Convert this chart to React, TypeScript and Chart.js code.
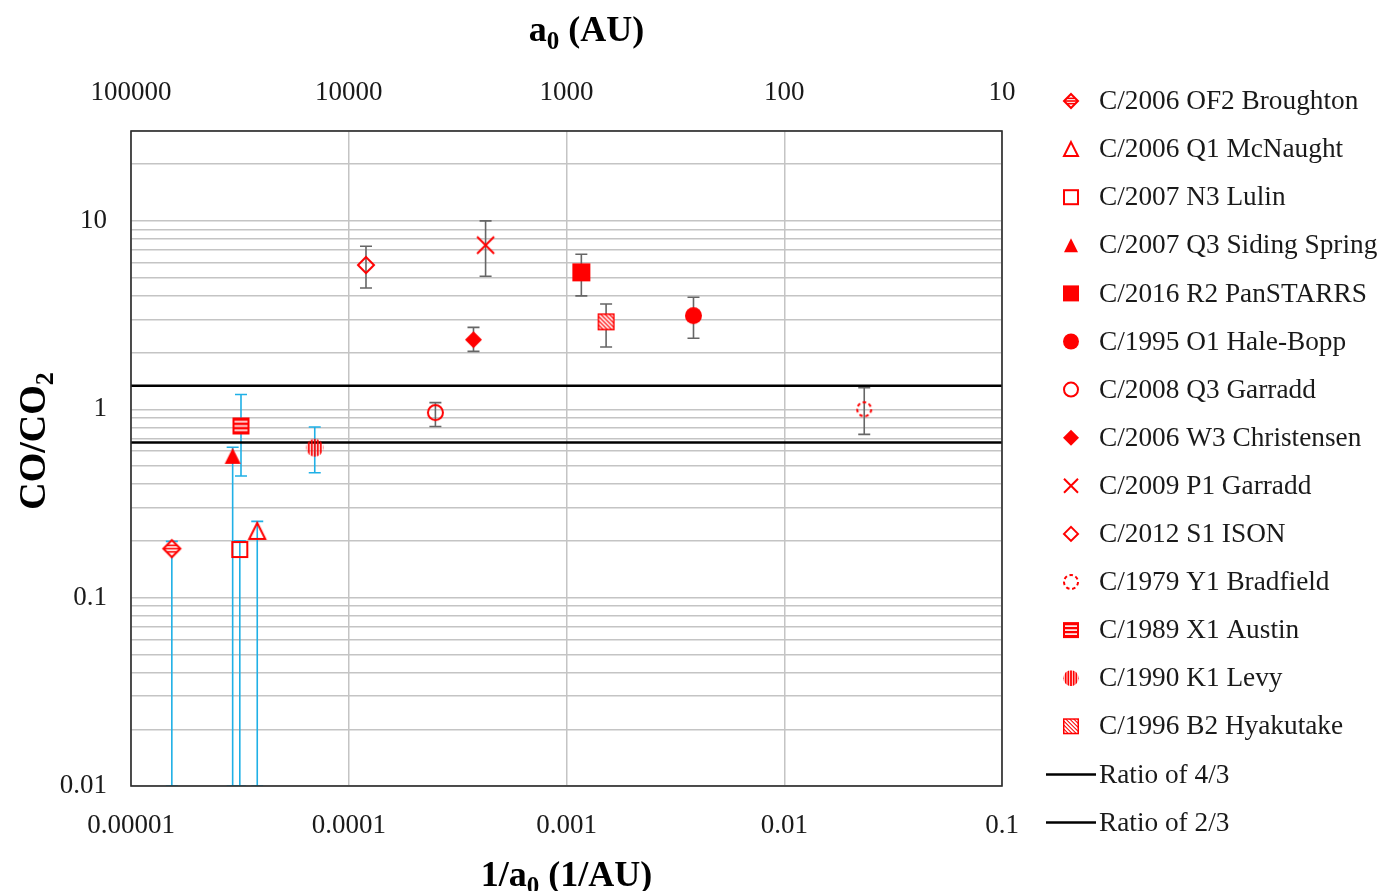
import React, { useEffect, useRef } from 'react';
import { Chart, registerables } from 'chart.js';

Chart.register(...registerables);

// ---------- data ----------
const cometNames = [
  'C/2006 OF2 Broughton',
  'C/2006 Q1 McNaught',
  'C/2007 N3 Lulin',
  'C/2007 Q3 Siding Spring',
  'C/2016 R2 PanSTARRS',
  'C/1995 O1 Hale-Bopp',
  'C/2008 Q3 Garradd',
  'C/2006 W3 Christensen',
  'C/2009 P1 Garradd',
  'C/2012 S1 ISON',
  'C/1979 Y1 Bradfield',
  'C/1989 X1 Austin',
  'C/1990 K1 Levy',
  'C/1996 B2 Hyakutake',
];
// 1/a0 (1/AU)
const invSemiMajor = [1.54e-5, 3.8e-5, 3.16e-5, 2.93e-5, 1.17e-3, 3.83e-3, 2.5e-4, 3.74e-4, 4.25e-4, 1.2e-4, 0.0233, 3.2e-5, 6.98e-5, 1.52e-3];
// CO/CO2
const coCo2 = [0.182, 0.226, 0.18, 0.566, 5.33, 3.14, 0.96, 2.34, 7.43, 5.83, 1.0, 0.815, 0.625, 2.91];
const errLower = [0.01, 0.01, 0.01, 0.01, 4.0, 2.38, 0.81, 2.03, 5.08, 4.4, 0.736, 0.442, 0.46, 2.14];
const errUpper = [0.199, 0.254, 0.2, 0.628, 6.65, 3.93, 1.085, 2.72, 10.0, 7.33, 1.3, 1.197, 0.805, 3.62];
const upperLimitStyle = [true, true, true, true, false, false, false, false, false, false, false, true, true, false];

const ratioValues = [4 / 3, 2 / 3];
const ratioLabels = ['Ratio of 4/3', 'Ratio of 2/3'];

const xTickValues = [1e-5, 1e-4, 1e-3, 1e-2, 1e-1];
const xTickLabels = ['0.00001', '0.0001', '0.001', '0.01', '0.1'];
const topTickValues = [100000, 10000, 1000, 100, 10];
const topTickLabels = ['100000', '10000', '1000', '100', '10'];
const yTickValues = [0.01, 0.1, 1, 10];
const yTickLabels = ['0.01', '0.1', '1', '10'];
const yGridValues = [
  0.01, 0.02, 0.03, 0.04, 0.05, 0.06, 0.07, 0.08, 0.09,
  0.1, 0.2, 0.3, 0.4, 0.5, 0.6, 0.7, 0.8, 0.9,
  1, 2, 3, 4, 5, 6, 7, 8, 9,
  10, 20, 30,
];

// ---------- styles ----------
const markerKinds = [
  'diamondStripe', 'triangleOpen', 'squareOpen', 'triangle', 'square', 'circle', 'circleOpen',
  'diamond', 'cross', 'diamondOpen', 'circleDashed', 'squareStripeH', 'circleStripeV', 'squareStripeD',
];
const markerSizes = [19, 18, 17, 18, 18, 17, 17, 17, 19, 18, 16, 17, 18, 17];
const RED = '#ff0000';
const FONT = "'Liberation Serif', 'Times New Roman', serif";
const TEXT = '#1a1a1a';

function diamondPath(ctx: CanvasRenderingContext2D, cx: number, cy: number, r: number) {
  ctx.beginPath();
  ctx.moveTo(cx, cy - r);
  ctx.lineTo(cx + r, cy);
  ctx.lineTo(cx, cy + r);
  ctx.lineTo(cx - r, cy);
  ctx.closePath();
}

function drawMarker(ctx: CanvasRenderingContext2D, kind: string, cx: number, cy: number, s: number) {
  const r = s / 2;
  const lw = s >= 15 ? 2 : 1.6;
  ctx.save();
  ctx.strokeStyle = RED;
  ctx.fillStyle = RED;
  ctx.lineWidth = lw;
  switch (kind) {
    case 'diamondStripe': {
      const rr = r - 1;
      diamondPath(ctx, cx, cy, rr);
      ctx.fillStyle = '#fff';
      ctx.fill();
      ctx.save();
      ctx.clip();
      ctx.fillStyle = RED;
      for (let k = -1; k <= 1; k++) ctx.fillRect(cx - rr, cy + k * rr * 0.38 - 0.8, 2 * rr, 1.6);
      ctx.restore();
      diamondPath(ctx, cx, cy, rr);
      ctx.stroke();
      break;
    }
    case 'triangleOpen':
    case 'triangle': {
      const rr = r - 1;
      ctx.beginPath();
      ctx.moveTo(cx, cy - rr);
      ctx.lineTo(cx + rr, cy + rr);
      ctx.lineTo(cx - rr, cy + rr);
      ctx.closePath();
      if (kind === 'triangle') ctx.fill();
      else ctx.stroke();
      break;
    }
    case 'squareOpen':
      ctx.strokeRect(cx - r + 1, cy - r + 1, s - 2, s - 2);
      break;
    case 'square':
      ctx.fillRect(cx - r, cy - r, s, s);
      break;
    case 'circle':
      ctx.beginPath();
      ctx.arc(cx, cy, r, 0, Math.PI * 2);
      ctx.fill();
      break;
    case 'circleOpen':
      ctx.beginPath();
      ctx.arc(cx, cy, r - 1, 0, Math.PI * 2);
      ctx.stroke();
      break;
    case 'diamond':
      diamondPath(ctx, cx, cy, r);
      ctx.fill();
      break;
    case 'cross': {
      const rr = r - 1;
      ctx.beginPath();
      ctx.moveTo(cx - rr, cy - rr);
      ctx.lineTo(cx + rr, cy + rr);
      ctx.moveTo(cx + rr, cy - rr);
      ctx.lineTo(cx - rr, cy + rr);
      ctx.stroke();
      break;
    }
    case 'diamondOpen':
      diamondPath(ctx, cx, cy, r - 1);
      ctx.stroke();
      break;
    case 'circleDashed':
      ctx.setLineDash([s * 0.22, s * 0.17]);
      ctx.beginPath();
      ctx.arc(cx, cy, r - 1, 0, Math.PI * 2);
      ctx.stroke();
      break;
    case 'squareStripeH': {
      ctx.fillRect(cx - r, cy - r, s, s);
      ctx.fillStyle = '#fff';
      for (let k = 1; k <= 3; k++) ctx.fillRect(cx - r + 2, cy - r + (k * s) / 4 - 0.8, s - 4, 1.6);
      break;
    }
    case 'circleStripeV': {
      ctx.beginPath();
      ctx.ellipse(cx, cy, r * 0.95, r, 0, 0, Math.PI * 2);
      ctx.save();
      ctx.clip();
      const step = s / 6;
      for (let k = -3; k <= 3; k++) {
        ctx.fillRect(cx + k * step - 0.9, cy - r, 1.8, s);
      }
      ctx.restore();
      break;
    }
    case 'squareStripeD': {
      ctx.fillRect(cx - r, cy - r, s, s);
      ctx.save();
      ctx.beginPath();
      ctx.rect(cx - r + 1.5, cy - r + 1.5, s - 3, s - 3);
      ctx.clip();
      ctx.strokeStyle = '#fff';
      ctx.lineWidth = 1.8;
      for (let k = -s; k <= s; k += s / 4) {
        ctx.beginPath();
        ctx.moveTo(cx - r + k, cy - r);
        ctx.lineTo(cx - r + k + s, cy + r);
        ctx.stroke();
      }
      ctx.restore();
      break;
    }
  }
  ctx.restore();
}

function makeMarkerCanvas(kind: string, s: number): HTMLCanvasElement {
  const c = document.createElement('canvas');
  const dim = s + 6;
  c.width = dim;
  c.height = dim;
  const ctx = c.getContext('2d')!;
  drawMarker(ctx, kind, dim / 2, dim / 2, s);
  return c;
}

type Part = { t: string; sub?: boolean };
function drawRichText(ctx: CanvasRenderingContext2D, parts: Part[], cx: number, baseline: number, size: number, subSize: number, subDrop: number) {
  const mainFont = `bold ${size}px ${FONT}`;
  const subFont = `bold ${subSize}px ${FONT}`;
  let total = 0;
  const widths = parts.map((p) => {
    ctx.font = p.sub ? subFont : mainFont;
    const w = ctx.measureText(p.t).width;
    total += w;
    return w;
  });
  let x = cx - total / 2;
  ctx.textAlign = 'left';
  ctx.textBaseline = 'alphabetic';
  ctx.fillStyle = '#000';
  parts.forEach((p, i) => {
    ctx.font = p.sub ? subFont : mainFont;
    ctx.fillText(p.t, x, baseline + (p.sub ? subDrop : 0));
    x += widths[i];
  });
}

const decorPlugin = {
  id: 'decor',
  beforeDatasetsDraw(chart: any) {
    const { ctx, chartArea, scales } = chart;
    const xs = scales.x;
    const ys = scales.y;
    ctx.save();
    ctx.beginPath();
    ctx.rect(chartArea.left, chartArea.top, chartArea.right - chartArea.left, chartArea.bottom - chartArea.top);
    ctx.clip();
    for (let i = 0; i < cometNames.length; i++) {
      const px = xs.getPixelForValue(invSemiMajor[i]);
      const yTop = ys.getPixelForValue(errUpper[i]);
      const yBot = ys.getPixelForValue(errLower[i]);
      ctx.strokeStyle = upperLimitStyle[i] ? '#1fb0e6' : '#666666';
      ctx.lineWidth = 1.6;
      ctx.beginPath();
      ctx.moveTo(px, yTop);
      ctx.lineTo(px, yBot);
      ctx.moveTo(px - 6, yTop);
      ctx.lineTo(px + 6, yTop);
      ctx.moveTo(px - 6, yBot);
      ctx.lineTo(px + 6, yBot);
      ctx.stroke();
    }
    ctx.restore();
  },
  afterDraw(chart: any) {
    const { ctx, chartArea } = chart;
    ctx.save();
    // plot border
    ctx.strokeStyle = '#2b2b2b';
    ctx.lineWidth = 1.6;
    ctx.strokeRect(chartArea.left, chartArea.top, chartArea.right - chartArea.left, chartArea.bottom - chartArea.top);

    // titles
    const midX = (chartArea.left + chartArea.right) / 2;
    drawRichText(ctx, [{ t: 'a' }, { t: '0', sub: true }, { t: ' (AU)' }], midX + 20, 41, 36, 25, 8);
    drawRichText(ctx, [{ t: '1/a' }, { t: '0', sub: true }, { t: ' (1/AU)' }], midX, 886, 36, 25, 8);
    ctx.save();
    ctx.translate(45, 441);
    ctx.rotate(-Math.PI / 2);
    drawRichText(ctx, [{ t: 'CO/CO' }, { t: '2', sub: true }], 0, 0, 38, 26, 8);
    ctx.restore();

    // legend
    const step = 48.1;
    const y0 = 101;
    ctx.textBaseline = 'middle';
    ctx.textAlign = 'left';
    cometNames.forEach((name, i) => {
      const y = y0 + i * step;
      drawMarker(ctx, markerKinds[i], 1071, y, 16);
      ctx.fillStyle = TEXT;
      ctx.font = `27.3px ${FONT}`;
      ctx.fillText(name, 1099, y + 1);
    });
    ratioLabels.forEach((label, j) => {
      const y = y0 + (cometNames.length + j) * step;
      ctx.strokeStyle = '#000';
      ctx.lineWidth = 2.5;
      ctx.beginPath();
      ctx.moveTo(1046, y);
      ctx.lineTo(1096, y);
      ctx.stroke();
      ctx.fillStyle = TEXT;
      ctx.font = `27.3px ${FONT}`;
      ctx.fillText(label, 1099, y + 1);
    });
    ctx.restore();
  },
};

function approxIndex(list: number[], v: number): number {
  return list.findIndex((t) => Math.abs(Math.log10(t) - Math.log10(v)) < 1e-6);
}

export default function App() {
  const canvasRef = useRef<HTMLCanvasElement | null>(null);

  useEffect(() => {
    if (!canvasRef.current) return;
    const pointDatasets = cometNames.map((name, i) => ({
      type: 'scatter' as const,
      label: name,
      data: [{ x: invSemiMajor[i], y: coCo2[i] }],
      pointStyle: makeMarkerCanvas(markerKinds[i], markerSizes[i]),
      pointRadius: 9,
      xAxisID: 'x',
      yAxisID: 'y',
    }));
    const lineDatasets = ratioValues.map((v, j) => ({
      type: 'line' as const,
      label: ratioLabels[j],
      data: [
        { x: xTickValues[0], y: v },
        { x: xTickValues[xTickValues.length - 1], y: v },
      ],
      borderColor: '#000',
      borderWidth: 2.5,
      pointRadius: 0,
      fill: false,
      xAxisID: 'x',
      yAxisID: 'y',
    }));

    const tickFont = { family: FONT, size: 27 };

    const chart = new Chart(canvasRef.current, {
      type: 'scatter',
      data: { datasets: [...pointDatasets, ...lineDatasets] as any },
      options: {
        animation: false,
        responsive: true,
        maintainAspectRatio: false,
        layout: { padding: { left: 0, right: 379, top: 0, bottom: 0 } },
        plugins: { legend: { display: false }, tooltip: { enabled: false } },
        scales: {
          x: {
            type: 'logarithmic',
            position: 'bottom',
            min: xTickValues[0],
            max: xTickValues[xTickValues.length - 1],
            afterBuildTicks: (s: any) => {
              s.ticks = xTickValues.map((v) => ({ value: v }));
            },
            afterFit: (s: any) => {
              s.height = 105;
            },
            ticks: {
              autoSkip: false,
              maxRotation: 0,
              padding: 24,
              font: tickFont,
              color: TEXT,
              callback: (v: any) => {
                const k = approxIndex(xTickValues, Number(v));
                return k >= 0 ? xTickLabels[k] : '';
              },
            },
            grid: { color: '#c4c4c4', lineWidth: 1.5, drawTicks: false },
            border: { display: false },
          },
          x2: {
            type: 'logarithmic',
            position: 'top',
            reverse: true,
            min: topTickValues[topTickValues.length - 1],
            max: topTickValues[0],
            afterBuildTicks: (s: any) => {
              s.ticks = topTickValues.map((v) => ({ value: v }));
            },
            afterFit: (s: any) => {
              s.height = 131;
            },
            ticks: {
              autoSkip: false,
              maxRotation: 0,
              padding: 22,
              font: tickFont,
              color: TEXT,
              callback: (v: any) => {
                const k = approxIndex(topTickValues, Number(v));
                return k >= 0 ? topTickLabels[k] : '';
              },
            },
            grid: { display: false, drawTicks: false },
            border: { display: false },
          },
          y: {
            type: 'logarithmic',
            position: 'left',
            min: yGridValues[0],
            max: yGridValues[yGridValues.length - 1],
            afterBuildTicks: (s: any) => {
              s.ticks = yGridValues.map((v) => ({ value: v }));
            },
            afterFit: (s: any) => {
              s.width = 131;
            },
            ticks: {
              autoSkip: false,
              padding: 24,
              font: tickFont,
              color: TEXT,
              callback: (v: any) => {
                const k = approxIndex(yTickValues, Number(v));
                return k >= 0 ? yTickLabels[k] : '';
              },
            },
            grid: { color: '#c4c4c4', lineWidth: 1.5, drawTicks: false },
            border: { display: false },
          },
        },
      } as any,
      plugins: [decorPlugin],
    });
    return () => chart.destroy();
  }, []);

  return (
    <div style={{ position: 'absolute', left: 0, top: 0, width: 1381, height: 891, background: '#fff' }}>
      <canvas ref={canvasRef} />
    </div>
  );
}
